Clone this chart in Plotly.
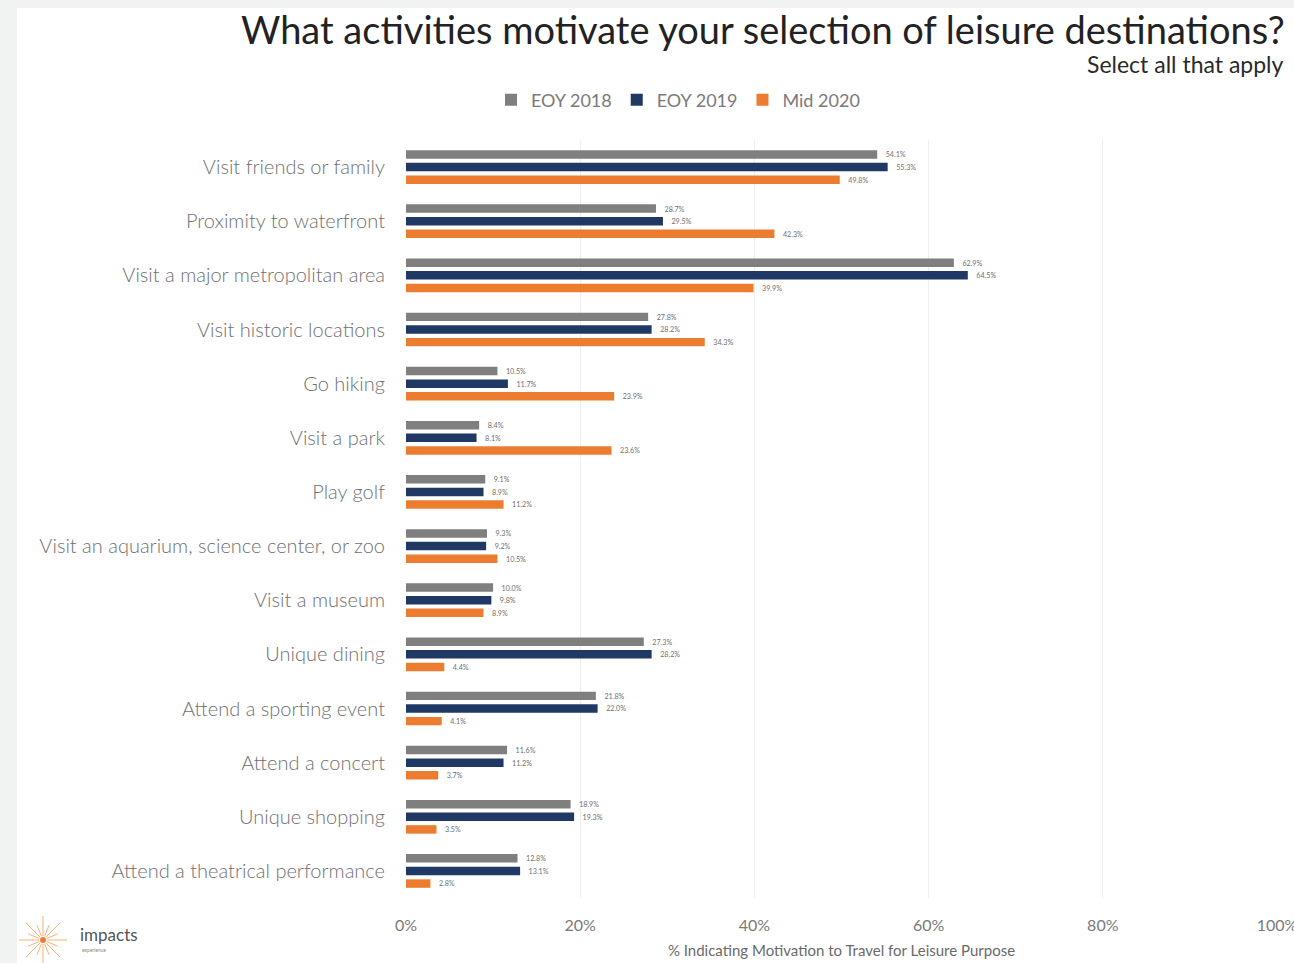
import plotly.graph_objects as go
import math

categories = [
    "Visit friends or family",
    "Proximity to waterfront",
    "Visit a major metropolitan area",
    "Visit historic locations",
    "Go hiking",
    "Visit a park",
    "Play golf",
    "Visit an aquarium, science center, or zoo",
    "Visit a museum",
    "Unique dining",
    "Attend a sporting event",
    "Attend a concert",
    "Unique shopping",
    "Attend a theatrical performance",
]
eoy_2018 = [54.1, 28.7, 62.9, 27.8, 10.5, 8.4, 9.1, 9.3, 10.0, 27.3, 21.8, 11.6, 18.9, 12.8]
eoy_2019 = [55.3, 29.5, 64.5, 28.2, 11.7, 8.1, 8.9, 9.2, 9.8, 28.2, 22.0, 11.2, 19.3, 13.1]
mid_2020 = [49.8, 42.3, 39.9, 34.3, 23.9, 23.6, 11.2, 10.5, 8.9, 4.4, 4.1, 3.7, 3.5, 2.8]
series_names = ["EOY 2018", "EOY 2019", "Mid 2020"]
tick_vals = [0, 20, 40, 60, 80, 100]
tick_text = ["0%", "20%", "40%", "60%", "80%", "100%"]

colors = ["#7f7f7f", "#1f3864", "#ec7c30"]

W, H = 1294, 963
L, R, T, B = 406, 17, 140, 65
pw, ph = W - L - R, H - T - B

def px(x):
    return (x - L) / pw

def py(y):
    return (H - B - y) / ph

fig = go.Figure()
for name, vals, c in zip(series_names, [eoy_2018, eoy_2019, mid_2020], colors):
    fig.add_trace(go.Bar(
        y=categories, x=vals, orientation="h", name=name,
        marker=dict(color=c, line=dict(width=0)),
        text=[f"   {v:.1f}%" for v in vals], textposition="outside",
        textfont=dict(size=11, color="#6f6f6f", family="Lato"),
        cliponaxis=False, hoverinfo="x+name",
    ))

shapes = [
    dict(type="rect", xref="paper", yref="paper", x0=px(0), x1=px(W), y0=py(0), y1=py(8),
         fillcolor="#f1f3f3", line=dict(width=0), layer="below"),
    dict(type="rect", xref="paper", yref="paper", x0=px(0), x1=px(17), y0=py(0), y1=py(H),
         fillcolor="#f1f3f3", line=dict(width=0), layer="below"),
]
# logo sunburst
cx, cy = 43, 940
for k in range(16):
    a = 2 * math.pi * k / 16
    r0, r1 = 4, 24 if k % 2 == 0 else 16
    shapes.append(dict(type="line", xref="paper", yref="paper",
                       x0=px(cx + r0 * math.cos(a)), y0=py(cy + r0 * math.sin(a)),
                       x1=px(cx + r1 * math.cos(a)), y1=py(cy + r1 * math.sin(a)),
                       line=dict(color="#f6b27a", width=1)))
shapes.append(dict(type="circle", xref="paper", yref="paper",
                   x0=px(cx - 3), x1=px(cx + 3), y0=py(cy + 3), y1=py(cy - 3),
                   fillcolor="#ec7c30", line=dict(width=0)))

annotations = [
    dict(text="What activities motivate your selection of leisure destinations?",
         xref="paper", yref="paper", x=px(1287), y=py(29), xanchor="right", yanchor="middle",
         showarrow=False, font=dict(size=38, color="#222222", family="Lato")),
    dict(text="Select all that apply",
         xref="paper", yref="paper", x=px(1286), y=py(64), xanchor="right", yanchor="middle",
         showarrow=False, font=dict(size=23, color="#2a2a2a", family="Lato")),
    dict(text="impacts", xref="paper", yref="paper", x=px(78), y=py(934), xanchor="left",
         yanchor="middle", showarrow=False, font=dict(size=17, color="#555555", family="Lato")),
    dict(text="experience", xref="paper", yref="paper", x=px(80), y=py(950), xanchor="left",
         yanchor="middle", showarrow=False, font=dict(size=5, color="#888888", family="Lato")),
]

fig.update_layout(
    width=W, height=H,
    margin=dict(l=L, r=R, t=T, b=B, autoexpand=False),
    paper_bgcolor="white", plot_bgcolor="white",
    barmode="group", bargap=0.3, bargroupgap=0.33,
    font=dict(family="Lato", color="#595959"),
    legend=dict(orientation="h", x=px(678), y=py(100), xanchor="center", yanchor="middle",
                font=dict(size=18, color="#7a7a7a"), itemwidth=30, traceorder="normal"),
    xaxis=dict(range=[0, 100], tickvals=tick_vals, ticktext=tick_text,
               showgrid=True, gridcolor="#eeeeee", gridwidth=1, zeroline=False,
               showline=False, ticks="", ticklabelstandoff=16, ticklabeloverflow="allow",
               tickfont=dict(size=16, color="#7a7a7a"),
               title=dict(text="% Indicating Motivation to Travel for Leisure Purpose",
                          font=dict(size=15, color="#6a6a6a"), standoff=12)),
    yaxis=dict(autorange="reversed", showgrid=False, zeroline=False, showline=False,
               ticks="", ticklabelstandoff=20,
               tickfont=dict(size=20, color="#707070", weight=300)),
    shapes=shapes, annotations=annotations,
)
fig.write_html("out.html", config={"displayModeBar": False},
               post_script="document.body.style.margin='0';document.body.style.overflow='hidden';")
